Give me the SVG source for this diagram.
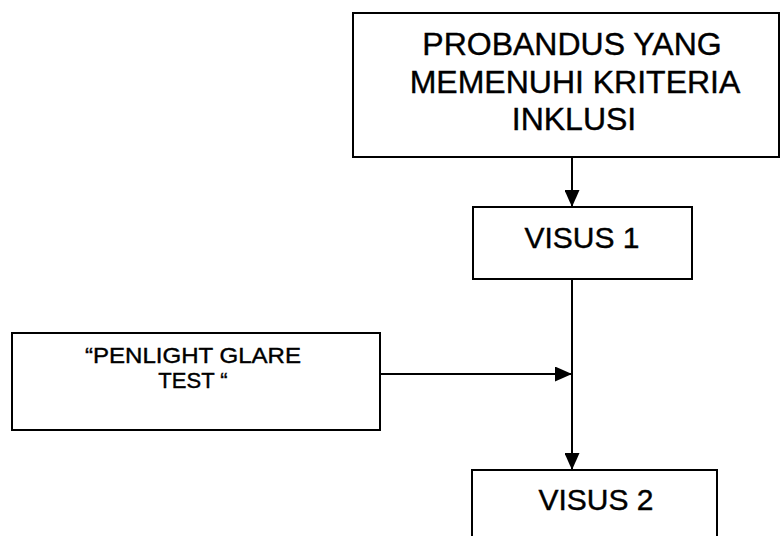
<svg xmlns="http://www.w3.org/2000/svg" width="780" height="536" viewBox="0 0 780 536">
<style>
.box{fill:#fff;stroke:#000;stroke-width:2}
.t{font-family:"Liberation Sans",Arial,sans-serif;fill:#000;stroke:#000;stroke-width:0.4;text-anchor:middle}
.big{font-size:32px}
.mid{font-size:30px}
.sm{font-size:22px}
.con{stroke:#000;stroke-width:2;fill:none}
</style>
<defs>
<marker id="ah" markerUnits="userSpaceOnUse" markerWidth="17" markerHeight="15" viewBox="0 0 17 15" refX="17" refY="7.5" orient="auto">
<path d="M0,0 L17,7.5 L0,15 Z" fill="#000"/>
</marker>
</defs>
<rect width="780" height="536" fill="#fff"/>
<g id="connectors">
<line class="con" x1="572" y1="157" x2="572" y2="207" marker-end="url(#ah)"/>
<line class="con" x1="572" y1="279" x2="572" y2="470" marker-end="url(#ah)"/>
<line class="con" x1="380" y1="374" x2="572" y2="374" marker-end="url(#ah)"/>
</g>
<g id="probandus">
<rect class="box" x="353" y="13" width="426" height="144"/>
<text class="t big" x="572" y="55">PROBANDUS YANG</text>
<text class="t big" x="575" y="93">MEMENUHI KRITERIA</text>
<text class="t big" x="574" y="130">INKLUSI</text>
</g>
<g id="visus1">
<rect class="box" x="473" y="207" width="219" height="72"/>
<text class="t mid" x="582" y="248">VISUS 1</text>
</g>
<g id="penlight">
<rect class="box" x="12" y="333" width="368" height="97"/>
<text class="t sm" x="193" y="363" textLength="216" lengthAdjust="spacingAndGlyphs">“PENLIGHT GLARE</text>
<text class="t sm" x="193" y="388">TEST “</text>
</g>
<g id="visus2">
<rect class="box" x="472" y="470" width="245" height="80"/>
<text class="t mid" x="596" y="510">VISUS 2</text>
</g>
</svg>
